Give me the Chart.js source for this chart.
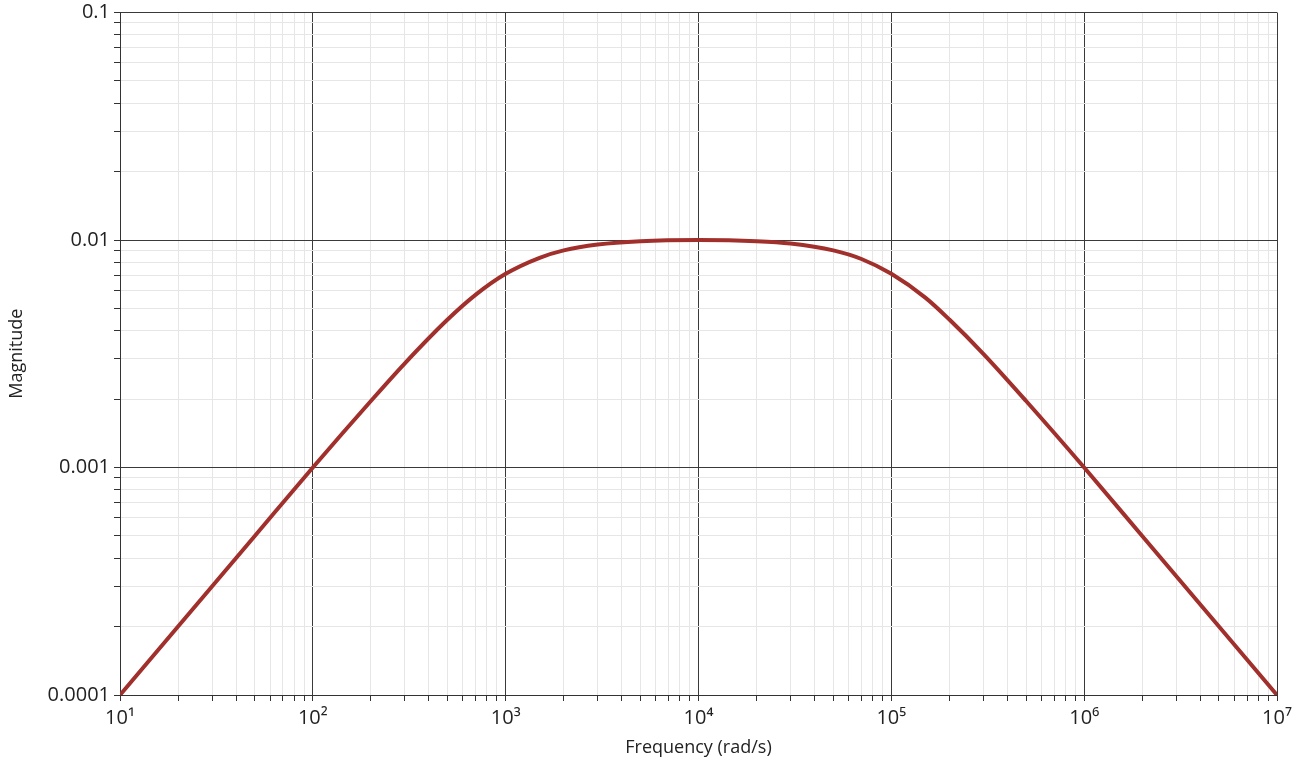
<!DOCTYPE html>
<html>
<head>
<meta charset="utf-8">
<script src="https://cdn.jsdelivr.net/npm/chart.js@4/dist/chart.umd.min.js"></script>
<style>
  html, body { margin: 0; padding: 0; background: #fff; }
  #wrap { width: 1306px; height: 765px; }
</style>
</head>
<body>
<div id="wrap"><canvas id="bode"></canvas></div>
<script>
'use strict';

//// data
const freqs = [10, 20, 50, 100, 200, 300, 500, 700, 1000, 1500, 2000, 3000, 5000, 10000,
  20000, 30000, 50000, 70000, 100000, 150000, 200000, 300000, 500000, 1000000, 2000000, 5000000, 10000000];
const magnitude = [0.0001, 0.0002, 0.0005, 0.001, 0.00196, 0.00287, 0.00447, 0.00575, 0.0071, 0.00835,
  0.009, 0.00955, 0.00988, 0.01, 0.00988, 0.00965, 0.009, 0.00825, 0.0071, 0.00558,
  0.00447, 0.00316, 0.00196, 0.001, 0.0005, 0.0002, 0.0001];
const xTickLabels = {10: '10¹', 100: '10²', 1000: '10³', 10000: '10⁴', 100000: '10⁵', 1000000: '10⁶', 10000000: '10⁷'};
const yTickLabels = {0.0001: '0.0001', 0.001: '0.001', 0.01: '0.01', 0.1: '0.1'};

const points = freqs.map((f, i) => ({ x: f, y: magnitude[i] }));

function isDecade(v) {
  const e = Math.log10(v);
  return Math.abs(e - Math.round(e)) < 1e-6;
}
function gridColor(ctx) {
  if (!ctx.tick) return '#e6e6e6';
  return isDecade(ctx.tick.value) ? '#3a3a3a' : '#e6e6e6';
}
function labelFor(map, v) {
  if (!isDecade(v)) return '';
  const key = Object.keys(map).find(k => Math.abs(Math.log10(k) - Math.log10(v)) < 1e-6);
  return key ? map[key] : '';
}
// only 1..9 x 10^n, no in-between steps
function decadeTicks(scale) {
  const lo = Math.round(Math.log10(scale.min));
  const hi = Math.round(Math.log10(scale.max));
  const out = [];
  for (let e = lo; e <= hi; e++) {
    for (let m = 1; m <= 9; m++) {
      if (e === hi && m > 1) break;
      out.push({ value: Number((m * Math.pow(10, e)).toPrecision(6)) });
    }
  }
  scale.ticks = out;
}

const font = "'Open Sans', 'Noto Sans', sans-serif";

//---> CHART <----///
const ctx = document.getElementById('bode').getContext('2d');
new Chart(ctx, {
  type: 'line',
  data: {
    datasets: [{
      data: points,
      borderColor: '#a1302c',
      borderWidth: 4,
      pointRadius: 0,
      cubicInterpolationMode: 'monotone',
      fill: false
    }]
  },
  options: {
    responsive: true,
    maintainAspectRatio: false,
    animation: false,
    layout: { padding: { top: 0, right: 29, left: 0, bottom: 0 } },
    plugins: { legend: { display: false }, tooltip: { enabled: false } },
    scales: {
      x: {
        type: 'logarithmic',
        min: 10,
        max: 10000000,
        afterBuildTicks: decadeTicks,
        grid: {
          color: gridColor,
          lineWidth: 1,
          drawTicks: true,
          tickLength: 6,
          tickColor: '#333'
        },
        border: { display: true, color: '#333', width: 1 },
        ticks: {
          autoSkip: false,
          maxRotation: 0,
          color: '#222',
          padding: 5,
          font: { family: font, size: 20 },
          callback: v => labelFor(xTickLabels, v)
        },
        title: {
          display: true,
          text: 'Frequency (rad/s)',
          color: '#222',
          font: { family: font, size: 18 },
          padding: { top: 0, bottom: 6 }
        },
        afterFit: s => { s.height = 70; }
      },
      y: {
        type: 'logarithmic',
        min: 0.0001,
        max: 0.1,
        afterBuildTicks: decadeTicks,
        grid: {
          color: gridColor,
          lineWidth: 1,
          drawTicks: true,
          tickLength: 6,
          tickColor: '#333'
        },
        border: { display: true, color: '#333', width: 1 },
        ticks: {
          autoSkip: false,
          color: '#222',
          padding: 4,
          font: { family: font, size: 20, lineHeight: 0.85 },
          callback: v => labelFor(yTickLabels, v)
        },
        title: {
          display: true,
          text: 'Magnitude',
          color: '#222',
          font: { family: font, size: 18 },
          padding: { top: 6, bottom: 0 }
        },
        afterFit: s => { s.width = 120; }
      }
    }
  }
});
</script>
</body>
</html>
